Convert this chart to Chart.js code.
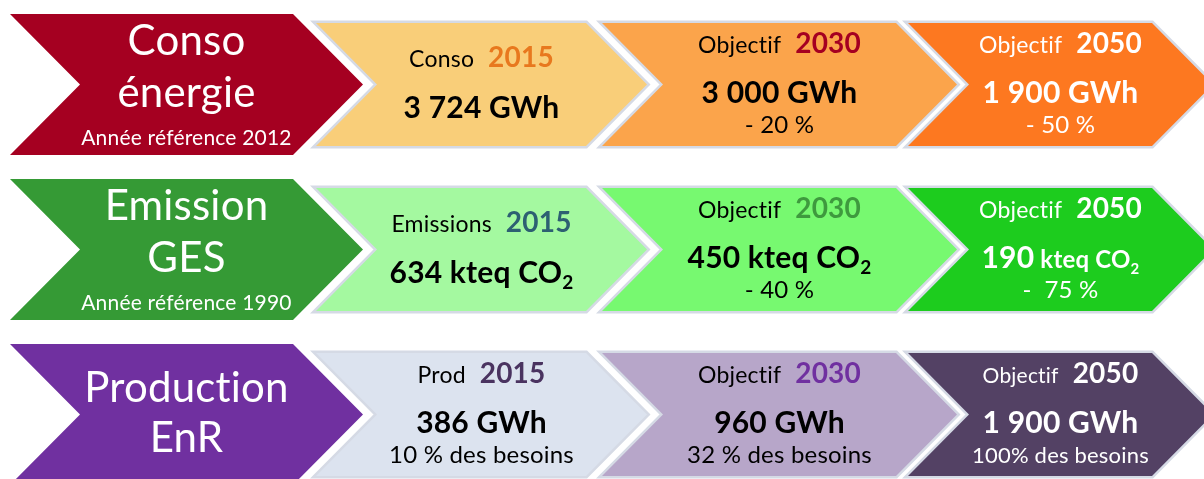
<!DOCTYPE html>
<html lang="fr">
<head>
<meta charset="utf-8">
<title>Objectifs énergie</title>
<script src="https://cdn.jsdelivr.net/npm/chart.js@4.4.1/dist/chart.umd.min.js"></script>
<style>
  html, body { margin: 0; padding: 0; background: #fff; overflow: hidden; }
  #wrap { position: relative; width: 1204px; height: 479px; }
</style>
</head>
<body>
<div id="wrap"><canvas id="chevrons"></canvas></div>
<script>
// Data
const rowNames = ['Conso énergie', 'Emission GES', 'Production EnR'];
const titleLines = [['Conso', 'énergie'], ['Emission', 'GES'], ['Production', 'EnR']];
const refYears = ['Année référence 2012', 'Année référence 1990', null];
const years = ['2015', '2030', '2050'];
const stageLabels = [
    ['Conso', 'Objectif', 'Objectif'],
    ['Emissions', 'Objectif', 'Objectif'],
    ['Prod', 'Objectif', 'Objectif']
];
const consoGWh = [3724, 3000, 1900];
const gesKteq = [634, 450, 190];
const enrGWh = [386, 960, 1900];
const consoNotes = [null, '- 20 %', '- 50 %'];
const gesNotes = [null, '- 40 %', '-  75 %'];
const enrNotes = ['10 % des besoins', '32 % des besoins', '100% des besoins'];

// Layout (pixel units of the hidden x axis) and styles
const titleSpan = [10, 363];
const stageSpans = [[316, 647], [602, 957], [908, 1213]];
const titleColors = ['#A50021', '#359A35', '#7030A0'];
const stageFills = [
    ['#F9CE79', '#FBA44B', '#FD7820'],
    ['#A4F9A0', '#77F970', '#1DCC1E'],
    ['#DCE3EF', '#B7A6C9', '#534164']
];
const yearColors = [
    ['#E8781E', '#A50021', '#FFFFFF'],
    ['#2D6072', '#3E9A3E', '#FFFFFF'],
    ['#4A3360', '#7030A0', '#FFFFFF']
];
const textColors = ['#000000', '#000000', '#FFFFFF'];
const FONT = "Lato, 'Open Sans', sans-serif";

function fmt(n) {
    return String(n).replace(/\B(?=(\d{3})+(?!\d))/g, ' ');
}

function valueRuns(row, stage, color) {
    if (row === 0) return [{ text: fmt(consoGWh[stage]) + ' GWh', font: 'bold 30px ' + FONT, color }];
    if (row === 2) return [{ text: fmt(enrGWh[stage]) + ' GWh', font: 'bold 30px ' + FONT, color }];
    const unitSize = stage === 2 ? 24 : 30;
    return [
        { text: fmt(gesKteq[stage]), font: 'bold 30px ' + FONT, color },
        { text: ' kteq CO', font: 'bold ' + unitSize + 'px ' + FONT, color },
        { text: '2', font: 'bold ' + Math.round(unitSize * 0.62) + 'px ' + FONT, color, dy: 6 }
    ];
}

function noteFor(row, stage) {
    if (row === 0) return consoNotes[stage];
    if (row === 1) return gesNotes[stage];
    return enrNotes[stage];
}

function drawRuns(ctx, runs, cx, baseline) {
    let total = 0;
    runs.forEach(r => {
        ctx.font = r.font;
        r.w = ctx.measureText(r.text).width + (r.gap || 0);
        total += r.w;
    });
    let x = cx - total / 2;
    ctx.textAlign = 'left';
    ctx.textBaseline = 'alphabetic';
    runs.forEach(r => {
        ctx.font = r.font;
        ctx.fillStyle = r.color;
        ctx.fillText(r.text, x + (r.gap || 0), baseline + (r.dy || 0));
        x += r.w;
    });
}

const chevronPlugin = {
    id: 'chevrons',
    beforeDatasetsDraw(chart) {
        const ctx = chart.ctx;
        ctx.save();
        // a tiny spacing keeps the "ti" ligature of Lato out of "Objectif"
        if ('letterSpacing' in ctx) ctx.letterSpacing = '0.2px';
        chart.data.datasets.forEach((ds, di) => {
            const meta = chart.getDatasetMeta(di);
            meta.data.forEach((el, ri) => {
                const p = el.getProps(['x', 'y', 'base', 'height'], true);
                const left = Math.min(p.x, p.base);
                const right = Math.max(p.x, p.base);
                const h = p.height / 2;
                const y = p.y;
                const depth = di === 0 ? 70 : 61;

                ctx.beginPath();
                ctx.moveTo(left, y - h);
                ctx.lineTo(right - depth, y - h);
                ctx.lineTo(right, y);
                ctx.lineTo(right - depth, y + h);
                ctx.lineTo(left, y + h);
                ctx.lineTo(left + depth, y);
                ctx.closePath();
                if (di > 0) {
                    ctx.lineJoin = 'miter';
                    ctx.lineWidth = 5;
                    ctx.strokeStyle = '#D5DAE5';
                    ctx.stroke();
                }
                ctx.fillStyle = el.options.backgroundColor;
                ctx.fill();

                const cx = (left + right) / 2;
                if (di === 0) {
                    const lines = titleLines[ri];
                    const ref = refYears[ri];
                    const b = ref ? [-29.5, 22.5] : [-12.5, 37.5];
                    drawRuns(ctx, [{ text: lines[0], font: '42px ' + FONT, color: '#FFFFFF' }], cx, y + b[0]);
                    drawRuns(ctx, [{ text: lines[1], font: '42px ' + FONT, color: '#FFFFFF' }], cx, y + b[1]);
                    if (ref) drawRuns(ctx, [{ text: ref, font: '21px ' + FONT, color: '#FFFFFF' }], cx, y + 60.5);
                    return;
                }

                const stage = di - 1;
                const color = textColors[stage];
                const note = noteFor(ri, stage);
                const small = ri === 2 && stage === 2;
                const b = note ? [-31, 19, 49] : [-17.5, 34];
                drawRuns(ctx, [
                    { text: stageLabels[ri][stage], font: (small ? 21 : 23) + 'px ' + FONT, color },
                    { text: years[stage], font: 'bold 28px ' + FONT, color: yearColors[ri][stage], gap: 14 }
                ], cx, y + b[0]);
                drawRuns(ctx, valueRuns(ri, stage, color), cx, y + b[1]);
                if (note) drawRuns(ctx, [{ text: note, font: (small ? 22 : 24) + 'px ' + FONT, color }], cx, y + b[2]);
            });
        });
        ctx.restore();
        return false;
    }
};

const datasets = [{
    label: 'Thème',
    data: rowNames.map((name, i) => ({ x: titleSpan, y: i })),
    backgroundColor: titleColors,
    barThickness: 141
}];
years.forEach((yr, k) => {
    datasets.push({
        label: yr,
        data: rowNames.map((name, i) => ({ x: stageSpans[k], y: i })),
        backgroundColor: stageFills.map(row => row[k]),
        barThickness: 123
    });
});

new Chart(document.getElementById('chevrons'), {
    type: 'bar',
    data: { datasets },
    options: {
        indexAxis: 'y',
        grouped: false,
        responsive: true,
        maintainAspectRatio: false,
        animation: false,
        layout: { padding: 0 },
        scales: {
            x: { type: 'linear', min: 0, max: 1204, display: false },
            y: { type: 'linear', reverse: true, offset: false, min: -0.512, max: 2.391, display: false }
        },
        plugins: {
            legend: { display: false },
            tooltip: { enabled: false }
        }
    },
    plugins: [chevronPlugin]
});
</script>
</body>
</html>
